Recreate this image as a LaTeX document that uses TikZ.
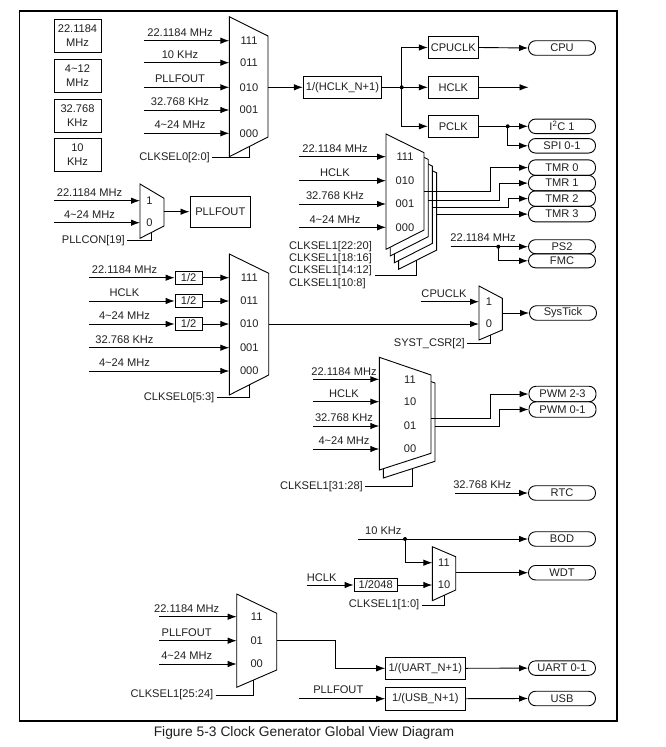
\documentclass[tikz,border=0pt]{standalone}
\usepackage{fontspec}
\setmainfont{Liberation Sans}
\usetikzlibrary{arrows.meta,calc}
\newcommand{\tld}{\textasciitilde}
\newcommand{\muxshape}[7]{%
  \coordinate (#1-tl) at (#2,#3);
  \coordinate (#1-bl) at (#2,#4);
  \coordinate (#1-tr) at (#5,#6);
  \coordinate (#1-br) at (#5,#7);
  \draw[muxst] (#1-tl) -- (#1-tr) -- (#1-br) -- (#1-bl) -- cycle;}
\tikzset{
  wire/.style={line width=0.9pt, draw=black},
  arr/.style={wire, -{Latex[length=9pt,width=6.5pt]}},
  lbl/.style={font=\fontsize{11.1}{12}\selectfont, inner sep=0pt, text=black!88},
  box/.style={draw, line width=0.9pt, fill=white, inner sep=1pt, font=\fontsize{11.1}{12}\selectfont, text=black!88},
  legbox/.style={draw, line width=0.9pt, minimum width=47pt, minimum height=33pt, inner sep=0pt, align=center, font=\fontsize{11.1}{14}\selectfont, text=black!88},
  term/.style={draw, line width=0.9pt, rounded corners=7pt, minimum width=67pt, minimum height=14.5pt, inner sep=0pt, font=\fontsize{11.1}{12}\selectfont, text=black!88},
  muxst/.style={draw=black, line width=0.9pt, fill=white},
}
\begin{document}
\begin{tikzpicture}[x=1pt,y=-1pt]
\useasboundingbox (0,0) rectangle (666,747);
\draw[line width=1.2pt] (19.5,11) rectangle (617,721);

% legend
\foreach \n/\y/\a/\b in {1/35.5/22.1184/MHz, 2/75.5/4\tld12/MHz, 3/115.5/32.768/KHz, 4/154.5/10/KHz}
  \node[legbox] (leg\n) at (77.5,\y) {\a\\\b};

% ---------- mux CLKSEL0[2:0]
\muxshape{m1}{229.3}{16.7}{156.7}{268}{36}{137}
\foreach \n/\y/\t/\s in {a/40.7/22.1184 MHz/111, b/62.7/10 KHz/011, c/87.3/PLLFOUT/010, d/110/32.768 KHz/001, e/133.3/4\tld24 MHz/000}{
  \coordinate (m1i\n) at (144,\y);
  \draw[arr] (m1i\n) -- (m1i\n -| m1-tl);
  \node[lbl] (m1l\n) at (180,{\y-8.5}) {\t};
  \node[lbl] (m1s\n) at (249,\y) {\s};
}
\coordinate (m1sel) at ($(m1-bl)!0.52!(m1-br)$);
\node[lbl, anchor=east] (m1k) at (210,157.5) {CLKSEL0[2:0]};
\draw[wire] ([xshift=2pt]m1k.east) -| (m1sel);

\node[box, minimum width=78.4pt, minimum height=22.7pt] (hdiv) at (342.5,87.3) {1/(HCLK\_N+1)};
\draw[arr] (hdiv.west -| m1-tr) -- (hdiv.west);
\coordinate (j1) at (401.7,87.3);
\node[box, minimum width=50pt, minimum height=21.6pt] (cpuclk) at (453.3,47.5) {CPUCLK};
\node[box, minimum width=50pt, minimum height=21.6pt] (hclk) at (453.3,87.3) {HCLK};
\node[box, minimum width=50pt, minimum height=21.6pt] (pclk) at (453.3,126.3) {PCLK};
\draw[wire] (hdiv.east) -- (j1);
\draw[arr] (j1) |- (cpuclk.west);
\draw[arr] (j1) -- (hclk.west);
\draw[arr] (j1) |- (pclk.west);
\fill (j1) circle (2);
\node[term] (cpu) at (562,48) {CPU};
\draw[arr] (cpuclk.east) -- (cpu.west);
\coordinate (hclkend) at (528.5,87.3);
\draw[arr] (hclk.east) -- (hclkend);
\node[term] (i2c) at (562,126.3) {I\textsuperscript{2}C 1};
\node[term] (spi) at (562,145.8) {SPI 0-1};
\coordinate (j2) at (507.7,126.3);
\draw[wire] (pclk.east) -- (j2);
\draw[arr] (j2) -- (i2c.west);
\draw[arr] (j2) |- (spi.west);
\fill (j2) circle (2);

% ---------- TMR muxes
\muxshape{t3}{398.6}{154}{269.3}{436.6}{172.8}{250.1}
\muxshape{t2}{394.4}{147.4}{262.7}{432.4}{166.1}{243.4}
\muxshape{t1}{390.2}{140.7}{256}{428.2}{159.4}{236.7}
\muxshape{t0}{386}{134}{249.3}{424}{152.7}{230}
\foreach \n/\y/\t/\s in {a/156.7/22.1184 MHz/111, b/180.7/HCLK/010, c/204/32.768 KHz/001, d/227.3/4\tld24 MHz/000}{
  \coordinate (ti\n) at (299.3,\y);
  \draw[arr] (ti\n) -- (ti\n -| t0-tl);
  \node[lbl] (tl\n) at (335,{\y-8}) {\t};
  \node[lbl] (ts\n) at (405,\y) {\s};
}
\node[term, minimum height=15.5pt] (tmr0) at (562,167.6) {TMR 0};
\node[term, minimum height=15.5pt] (tmr1) at (562,183.1) {TMR 1};
\node[term, minimum height=15.5pt] (tmr2) at (562,198.6) {TMR 2};
\node[term, minimum height=15.5pt] (tmr3) at (562,214.1) {TMR 3};
\coordinate (t0o) at (424,191.7);
\coordinate (t1o) at (428.2,200);
\coordinate (t2o) at (432.4,207.3);
\coordinate (t3o) at (436.6,214.1);
\draw[arr] (t0o) -| (490.7,167.6) -- (tmr0.west);
\draw[arr] (t1o) -| (499,183.1) -- (tmr1.west);
\draw[arr] (t2o) -| (508.3,198.6) -- (tmr2.west);
\draw[arr] (t3o) -- (tmr3.west);
\node[lbl, anchor=west] (tk1) at (289,246.5) {CLKSEL1[22:20]};
\node[lbl, anchor=west] (tk2) at (289,258.8) {CLKSEL1[18:16]};
\node[lbl, anchor=west] (tk3) at (289,271.1) {CLKSEL1[14:12]};
\node[lbl, anchor=west] (tk4) at (289,284) {CLKSEL1[10:8]};
\coordinate (tsel) at ($(t3-bl)!0.46!(t3-br)$);
\coordinate (tsel0) at (375,275.5);
\draw[wire] (tsel0) -| (tsel);

% PS2 / FMC
\node[lbl] (psl) at (483,238) {22.1184 MHz};
\coordinate (psi) at (450.7,246.7);
\node[term, minimum height=14pt] (ps2) at (562,246.7) {PS2};
\node[term, minimum height=14pt] (fmc) at (562,260.8) {FMC};
\coordinate (j3) at (498.3,246.7);
\draw[arr] (psi) -- (ps2.west);
\draw[arr] (j3) |- (fmc.west);
\fill (j3) circle (2);

% ---------- PLL mux
\muxshape{pm}{140}{184}{238.3}{164}{198.3}{226}
\foreach \n/\y/\t/\s in {a/200.7/22.1184 MHz/1, b/222.7/4\tld24 MHz/0}{
  \coordinate (pi\n) at (54,\y);
  \draw[arr] (pi\n) -- (pi\n -| pm-tl);
  \node[lbl] (pl\n) at (89.5,{\y-8.5}) {\t};
  \node[lbl] (ps\n) at (149.5,\y) {\s};
}
\node[box, minimum width=60.7pt, minimum height=31.3pt] (pllf) at (220.3,211.7) {PLLFOUT};
\draw[arr] (pllf.west -| pm-tr) -- (pllf.west);
\coordinate (pmsel) at ($(pm-bl)!0.49!(pm-br)$);
\node[lbl, anchor=east] (pmk) at (125,240.5) {PLLCON[19]};
\draw[wire] ([xshift=2pt]pmk.east) -| (pmsel);

% ---------- mux CLKSEL0[5:3]
\muxshape{m0}{229.3}{254}{395}{268.7}{273.3}{375}
\foreach \n/\y/\t/\s in {a/277.7/22.1184 MHz/111, b/301/HCLK/011, c/324/4\tld24 MHz/010}{
  \coordinate (m0i\n) at (89.3,\y);
  \node[box, minimum width=27.3pt, minimum height=13pt, inner sep=0pt] (hv\n) at (188.7,\y) {1/2};
  \draw[arr] (m0i\n) -- (hv\n.west);
  \draw[arr] (hv\n.east) -- (hv\n.east -| m0-tl);
  \node[lbl] (m0l\n) at (124.5,{\y-8.5}) {\t};
  \node[lbl] (m0s\n) at (249.3,\y) {\s};
}
\foreach \n/\y/\t/\s in {d/347.7/32.768 KHz/001, e/371/4\tld24 MHz/000}{
  \coordinate (m0i\n) at (89.3,\y);
  \draw[arr] (m0i\n) -- (m0i\n -| m0-tl);
  \node[lbl] (m0l\n) at (124.5,{\y-8.5}) {\t};
  \node[lbl] (m0s\n) at (249.3,\y) {\s};
}
\coordinate (m0sel) at ($(m0-bl)!0.51!(m0-br)$);
\node[lbl, anchor=east] (m0k) at (214.5,397.5) {CLKSEL0[5:3]};
\draw[wire] ([xshift=2pt]m0k.east) -| (m0sel);

% ---------- SysTick mux
\muxshape{st}{479}{286}{340}{502.3}{298.3}{330}
\coordinate (m0o) at (268.7,324);
\draw[arr] (m0o) -- (m0o -| st-tl);
\coordinate (cpi) at (420.7,301.7);
\draw[arr] (cpi) -- (cpi -| st-tl);
\node[lbl] (cpl) at (444,293.3) {CPUCLK};
\node[lbl] (st1) at (489,301.7) {1};
\node[lbl] (st0) at (489,324) {0};
\node[term] (systick) at (563,313) {SysTick};
\draw[arr] (systick.west -| st-tr) -- (systick.west);
\coordinate (stsel) at ($(st-bl)!0.5!(st-br)$);
\node[lbl, anchor=east] (stk) at (465,343.5) {SYST\_CSR[2]};
\draw[wire] ([xshift=2pt]stk.east) -| (stsel);

% ---------- PWM mux
\muxshape{pw1}{383.3}{365.3}{478}{435}{383}{461.3}
\muxshape{pw0}{379.3}{357.3}{470}{431}{375}{453.3}
\foreach \n/\y/\t/\s in {a/379.3/22.1184 MHz/11, b/401.7/HCLK/10, c/426/32.768 KHz/01, d/449/4\tld24 MHz/00}{
  \coordinate (wi\n) at (313.3,\y);
  \draw[arr] (wi\n) -- (wi\n -| pw0-tl);
  \node[lbl] (wl\n) at (344,{\y-8}) {\t};
  \node[lbl] (ws\n) at (410,\y) {\s};
}
\node[term, minimum height=15.5pt] (pwm23) at (562.5,394) {PWM 2-3};
\node[term, minimum height=15.5pt] (pwm01) at (562.5,409.5) {PWM 0-1};
\coordinate (pw0o) at (431,418.3);
\coordinate (pw1o) at (435,426);
\draw[arr] (pw0o) -| (490,394) -- (pwm23.west);
\draw[arr] (pw1o) -| (499,409.5) -- (pwm01.west);
\coordinate (pwsel) at ($(pw1-bl)!0.57!(pw1-br)$);
\node[lbl, anchor=east] (pwk) at (363,486.5) {CLKSEL1[31:28]};
\draw[wire] ([xshift=2pt]pwk.east) -| (pwsel);

% RTC
\node[lbl] (rtl) at (482.3,485) {32.768 KHz};
\coordinate (rti) at (455,493);
\node[term] (rtc) at (562,493) {RTC};
\draw[arr] (rti) -- (rtc.west);

% ---------- BOD / WDT
\node[lbl] (tkl) at (383.3,530.7) {10 KHz};
\coordinate (tki) at (358.3,539);
\node[term] (bod) at (562,539) {BOD};
\draw[arr] (tki) -- (bod.west);
\coordinate (j4) at (405,539);
\muxshape{wd}{432.3}{546.7}{600.7}{455.7}{556.7}{590}
\coordinate (wd11) at (432.3,562.7);
\draw[arr] (j4) |- (wd11);
\fill (j4) circle (2);
\node[lbl] (wds1) at (444,562.7) {11};
\node[lbl] (wds0) at (444,585) {10};
\node[lbl] (whl) at (321.7,577.3) {HCLK};
\coordinate (whi) at (306.7,585);
\node[box, minimum width=43.3pt, minimum height=13.4pt, inner sep=0pt] (d2048) at (375.7,585) {1/2048};
\draw[arr] (whi) -- (d2048.west);
\draw[arr] (d2048.east) -- (d2048.east -| wd-tl);
\node[term] (wdt) at (562,572.7) {WDT};
\draw[arr] (wdt.west -| wd-tr) -- (wdt.west);
\coordinate (wdsel) at ($(wd-bl)!0.51!(wd-br)$);
\node[lbl, anchor=east] (wdk) at (419.5,605) {CLKSEL1[1:0]};
\draw[wire] ([xshift=2pt]wdk.east) -| (wdsel);

% ---------- UART mux
\muxshape{um}{236.7}{594}{687.3}{276.7}{613.3}{670}
\foreach \n/\y/\t/\s in {a/616.7/22.1184 MHz/11, b/640.7/PLLFOUT/01, c/664/4\tld24 MHz/00}{
  \coordinate (ui\n) at (159.3,\y);
  \draw[arr] (ui\n) -- (ui\n -| um-tl);
  \node[lbl] (ul\n) at (186.7,{\y-8}) {\t};
  \node[lbl] (us\n) at (256.7,\y) {\s};
}
\node[box, minimum width=79.3pt, minimum height=22pt] (udiv) at (425.3,668.3) {1/(UART\_N+1)};
\coordinate (umo) at (276.7,640.7);
\draw[arr] (umo) -| (335,668.3) -- (udiv.west);
\node[term] (uart) at (562,668.1) {UART 0-1};
\draw[arr] (udiv.east) -- (uart.west);
\coordinate (umsel) at ($(um-bl)!0.43!(um-br)$);
\node[lbl, anchor=east] (umk) at (213.5,695) {CLKSEL1[25:24]};
\draw[wire] ([xshift=2pt]umk.east) -| (umsel);

% USB
\node[lbl] (usl) at (338.3,690) {PLLFOUT};
\coordinate (usi) at (299.3,698.7);
\node[box, minimum width=79.3pt, minimum height=22.7pt] (usbdiv) at (425.3,698.7) {1/(USB\_N+1)};
\draw[arr] (usi) -- (usbdiv.west);
\node[term] (usb) at (562,698.5) {USB};
\draw[arr] (usbdiv.east) -- (usb.west);

% caption
\node[font=\fontsize{13.8}{16}\selectfont, inner sep=0pt, text=black!88] (cap) at (304,733) {Figure 5-3 Clock Generator Global View Diagram};
\end{tikzpicture}
\end{document}
